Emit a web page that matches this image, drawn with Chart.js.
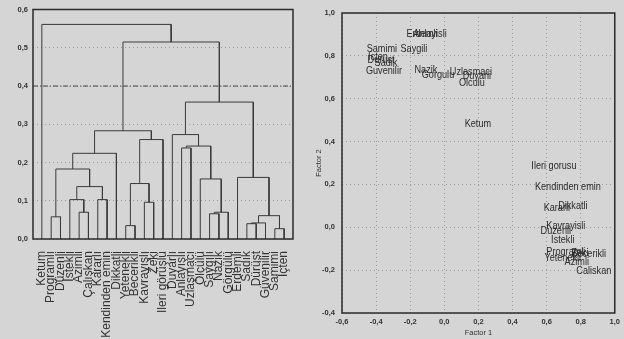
<!DOCTYPE html>
<html>
<head>
<meta charset="utf-8">
<script src="https://cdn.jsdelivr.net/npm/chart.js@4.4.0/dist/chart.umd.min.js"></script>
<style>
  html, body { margin: 0; padding: 0; background: #d5d5d5; }
  #wrap { position: relative; width: 624px; height: 339px; overflow: hidden; }
  canvas { position: absolute; top: 0; }
  #dendro { left: 0; }
  #factors { left: 310px; }
</style>
</head>
<body>
<div id="wrap">
  <canvas id="dendro" width="310" height="339"></canvas>
  <canvas id="factors" width="314" height="339"></canvas>
</div>
<script>
// dendrogram leaves, left to right
const leaves = ['Ketum', 'Programlı', 'Düzenli', 'İstekli', 'Azimli', 'Çalışkan', 'Kararlı',
  'Kendinden emin', 'Dikkatli', 'Yetenekli', 'Becerikli', 'Kavrayışlı', 'Zeki', 'Ileri görüşlü',
  'Duyarlı', 'Anlayışlı', 'Uzlaşmacı', 'Ölçülü', 'Saygılı', 'Nazik', 'Görgülü', 'Erdemli',
  'Sadık', 'Dürüst', 'Güvenilir', 'Samimi', 'İçten'];

// merges: [node a, node b, distance]; nodes 0-26 are leaves, 27.. are the merges below in order
const merges = [
  [1, 2, 0.058],    // 27
  [4, 5, 0.070],    // 28
  [3, 28, 0.103],   // 29
  [6, 7, 0.103],    // 30
  [29, 30, 0.137],  // 31
  [27, 31, 0.183],  // 32
  [32, 8, 0.224],   // 33
  [9, 10, 0.035],   // 34
  [11, 12, 0.096],  // 35
  [34, 35, 0.145],  // 36
  [36, 13, 0.260],  // 37
  [33, 37, 0.283],  // 38
  [15, 16, 0.238],  // 39
  [18, 19, 0.066],  // 40
  [40, 20, 0.070],  // 41
  [17, 41, 0.157],  // 42
  [39, 42, 0.243],  // 43
  [14, 43, 0.273],  // 44
  [22, 23, 0.040],  // 45
  [45, 24, 0.042],  // 46
  [25, 26, 0.027],  // 47
  [46, 47, 0.061],  // 48
  [21, 48, 0.161],  // 49
  [44, 49, 0.358],  // 50
  [38, 50, 0.515],  // 51
  [0, 51, 0.561]    // 52
];
const cutLevel = 0.4;

// factor plot
const itemNames = ['Erdemli', 'Anlayisli', 'Samimi', 'Saygili', 'Icten', 'Durust', 'Sadik',
  'Guvenilir', 'Nazik', 'Gorgulu', 'Uzlasmaci', 'Duyarli', 'Olculu', 'Ketum', 'Ileri gorusu',
  'Kendinden emin', 'Kararli', 'Dikkatli', 'Kavrayisli', 'Duzenli', 'Istekli', 'Zeki',
  'Programli', 'Becerikli', 'Yetenekli', 'Azimli', 'Caliskan'];
const factor1 = [-0.131, -0.084, -0.366, -0.178, -0.389, -0.371, -0.342,
  -0.354, -0.108, -0.037, 0.156, 0.191, 0.162, 0.197, 0.643,
  0.725, 0.660, 0.754, 0.713, 0.654, 0.695, 0.795,
  0.713, 0.848, 0.695, 0.777, 0.877];
const factor2 = [0.902, 0.902, 0.832, 0.832, 0.795, 0.781, 0.767,
  0.729, 0.734, 0.711, 0.725, 0.706, 0.673, 0.482, 0.286,
  0.188, 0.090, 0.100, 0.006, -0.017, -0.059, -0.118,
  -0.115, -0.125, -0.143, -0.162, -0.204];

Chart.defaults.font.family = '"Liberation Sans", Arial, sans-serif';
Chart.defaults.color = '#333';

const comma = v => (Math.abs(v) < 1e-9 ? 0 : v).toFixed(1).replace('.', ',');

const frame = {
  id: 'frame',
  afterDraw(chart) {
    const a = chart.chartArea, ctx = chart.ctx;
    ctx.save();
    ctx.strokeStyle = '#2a2a2a';
    ctx.lineWidth = 1.5;
    ctx.strokeRect(a.left, a.top, a.right - a.left, a.bottom - a.top);
    ctx.restore();
  }
};

const cutLine = {
  id: 'cutLine',
  beforeDatasetsDraw(chart) {
    const a = chart.chartArea, ctx = chart.ctx;
    const y = chart.scales.y.getPixelForValue(cutLevel);
    ctx.save();
    ctx.strokeStyle = '#444';
    ctx.lineWidth = 1;
    ctx.setLineDash([5, 2, 1, 2]);
    ctx.beginPath();
    ctx.moveTo(a.left, y);
    ctx.lineTo(a.right, y);
    ctx.stroke();
    ctx.restore();
  }
};

// narrow-looking labels: regular face squeezed horizontally
const itemLabels = {
  id: 'itemLabels',
  afterDatasetsDraw(chart) {
    const ctx = chart.ctx;
    const pts = chart.getDatasetMeta(0).data;
    ctx.save();
    ctx.font = '11px "Liberation Sans", Arial, sans-serif';
    ctx.fillStyle = '#2a2a2a';
    ctx.textAlign = 'center';
    ctx.textBaseline = 'middle';
    pts.forEach((p, i) => {
      ctx.save();
      ctx.translate(p.x, p.y);
      ctx.scale(0.83, 1);
      ctx.fillText(itemNames[i], 0, 0);
      ctx.restore();
    });
    ctx.restore();
  }
};

// build the dendrogram branches from the merge list
const nodeX = leaves.map((_, i) => i);
const nodeY = leaves.map(() => 0);
const branches = merges.map(([a, b, h]) => {
  const seg = [
    {x: nodeX[a], y: nodeY[a]},
    {x: nodeX[a], y: h},
    {x: nodeX[b], y: h},
    {x: nodeX[b], y: nodeY[b]}
  ];
  nodeX.push((nodeX[a] + nodeX[b]) / 2);
  nodeY.push(h);
  return {data: seg, showLine: true, borderColor: '#3a3a3a', borderWidth: 1, pointRadius: 0};
});

new Chart(document.getElementById('dendro'), {
  type: 'scatter',
  data: {datasets: branches},
  options: {
    responsive: false,
    animation: false,
    layout: {padding: {top: 8, right: 17}},
    plugins: {legend: {display: false}, tooltip: {enabled: false}},
    scales: {
      x: {
        type: 'linear', min: -0.95, max: leaves.length - 0.05,
        afterFit: s => { s.height = 100; },
        grid: {display: false},
        border: {display: false},
        ticks: {
          stepSize: 1, includeBounds: false, autoSkip: false,
          maxRotation: 90, minRotation: 90, padding: 4,
          font: {size: 12}, color: '#333',
          callback: v => leaves[v] ?? ''
        }
      },
      y: {
        min: 0, max: 0.6,
        afterFit: s => { s.width = 33; },
        grid: {color: '#9a9a9a', drawTicks: false},
        border: {display: false, dash: [1, 3]},
        ticks: {stepSize: 0.1, padding: 5, font: {size: 7.5, weight: 'bold'}, color: '#333', callback: comma}
      }
    }
  },
  plugins: [cutLine, frame]
});

new Chart(document.getElementById('factors'), {
  type: 'scatter',
  data: {
    datasets: [{
      data: factor1.map((x, i) => ({x, y: factor2[i]})),
      pointRadius: 0
    }]
  },
  options: {
    responsive: false,
    animation: false,
    layout: {padding: {top: 13, right: 9}},
    plugins: {legend: {display: false}, tooltip: {enabled: false}},
    scales: {
      x: {
        min: -0.6, max: 1.0,
        afterFit: s => { s.height = 26; },
        grid: {color: '#9a9a9a', drawTicks: false},
        border: {display: false, dash: [1, 3]},
        ticks: {stepSize: 0.2, padding: 4, font: {size: 7.5, weight: 'bold'}, color: '#333', callback: comma},
        title: {display: true, text: 'Factor 1', font: {size: 7.5}, color: '#333', padding: {top: 0, bottom: 2}}
      },
      y: {
        min: -0.4, max: 1.0,
        afterFit: s => { s.width = 32; },
        grid: {color: '#9a9a9a', drawTicks: false},
        border: {display: false, dash: [1, 3]},
        ticks: {stepSize: 0.2, padding: 7, font: {size: 7.5, weight: 'bold'}, color: '#333', callback: comma},
        title: {display: true, text: 'Factor 2', font: {size: 7.5}, color: '#333', padding: {top: 4, bottom: 0}}
      }
    }
  },
  plugins: [itemLabels, frame]
});
</script>
</body>
</html>
